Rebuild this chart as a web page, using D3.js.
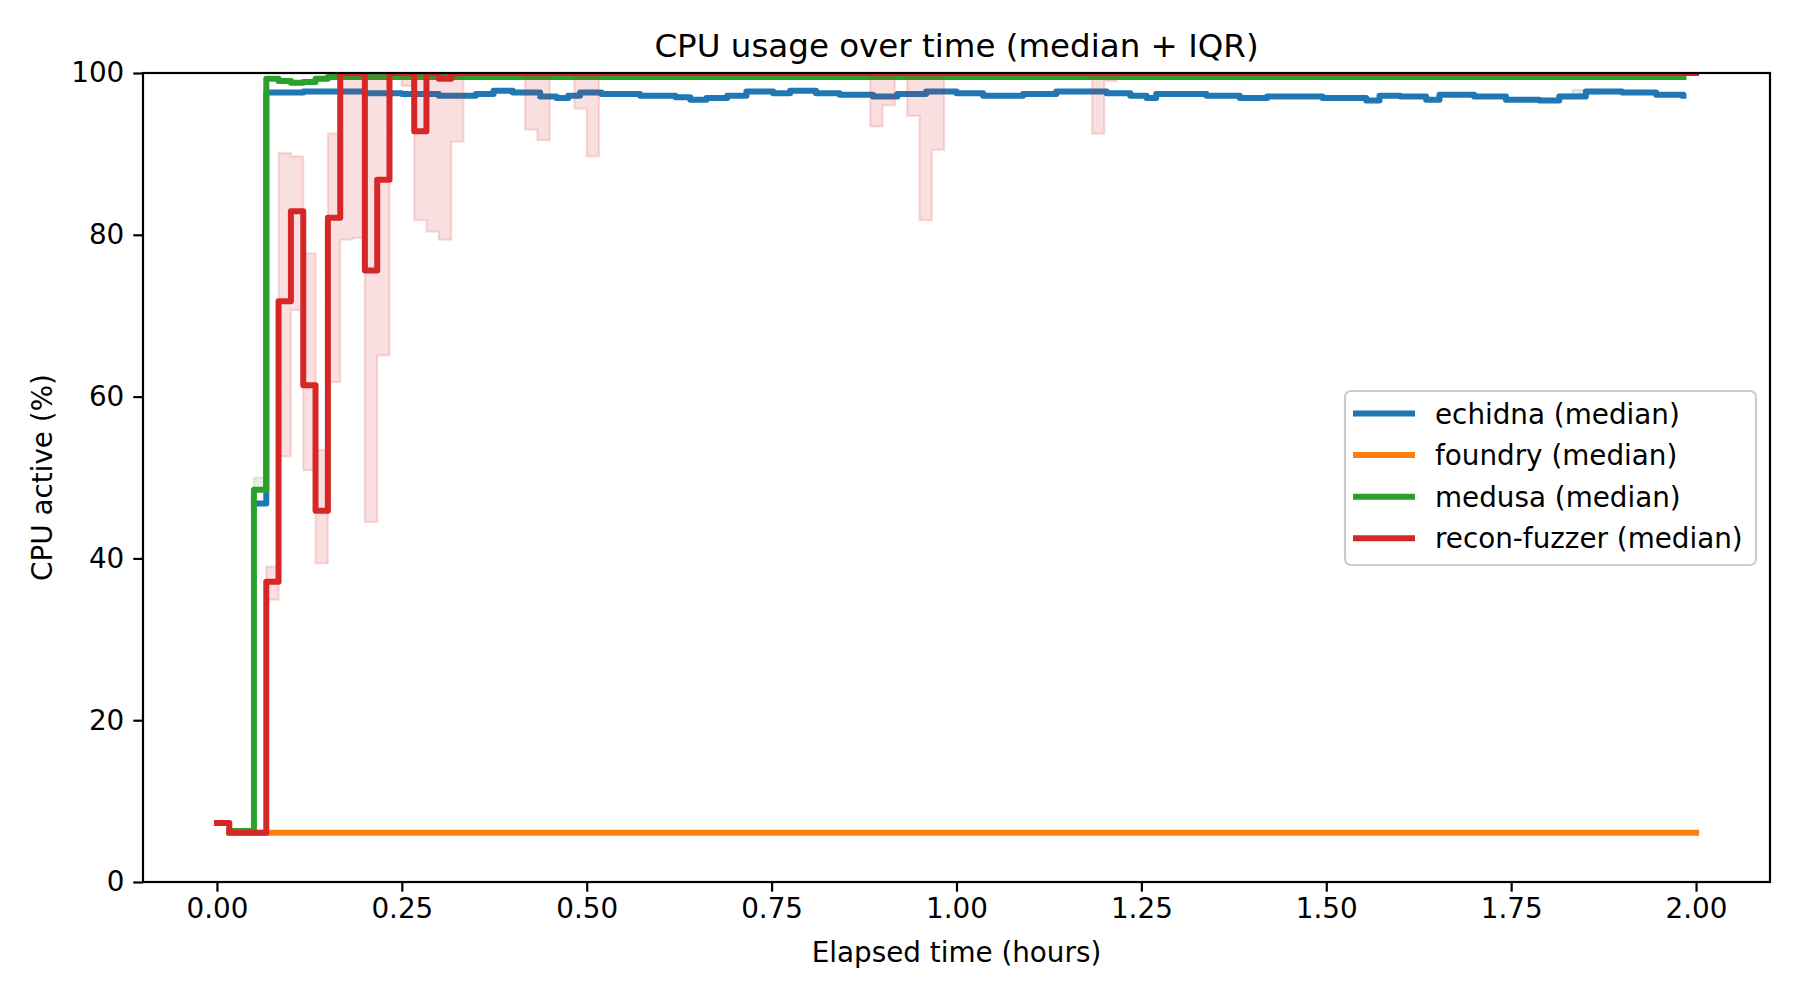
<!DOCTYPE html>
<html>
<head>
<meta charset="utf-8">
<script src="https://cdn.jsdelivr.net/npm/d3@7"></script>
<style>
  body { margin: 0; background: #fff; }
  svg { font-family: 'DejaVu Sans', sans-serif; }
</style>
</head>
<body>
<div id="chart"></div>
<script>
// Step series (value holds until next time), time in hours
const echidnaT = [0.05, 0.0667, 0.117, 0.2, 0.25, 0.3, 0.35, 0.374, 0.4, 0.437, 0.459, 0.475, 0.491, 0.52,
    0.572, 0.62, 0.64, 0.662, 0.69, 0.716, 0.752, 0.775, 0.81, 0.842, 0.887, 0.92, 0.959, 1.0, 1.036,
    1.09, 1.135, 1.203, 1.235, 1.257, 1.27, 1.338, 1.383, 1.42, 1.495, 1.554, 1.572, 1.6, 1.635, 1.653,
    1.7, 1.743, 1.788, 1.815, 1.851, 1.9, 1.946, 1.983]
const echidnaV = [46.8, 97.6, 97.7, 97.5, 97.4, 97.2, 97.4, 97.8, 97.6, 97.1, 96.9, 97.2, 97.6, 97.4,
    97.2, 97.0, 96.7, 96.9, 97.2, 97.7, 97.5, 97.8, 97.5, 97.3, 97.1, 97.4, 97.7, 97.5, 97.2,
    97.4, 97.7, 97.5, 97.2, 96.9, 97.4, 97.2, 96.9, 97.1, 96.9, 96.6, 97.2, 97.1, 96.7, 97.3,
    97.1, 96.7, 96.6, 97.1, 97.7, 97.6, 97.3, 97.2]
const echidnaBandT = [1.8, 1.817, 1.833, 1.867]
const echidnaLo = [96.6, 96.9, 97.4, 97.6]
const echidnaHi = [96.8, 97.4, 97.9, 97.7]

const foundryT = [0.0167, 2.0]
const foundryV = [6.1, 6.1]

const medusaT = [0.0167, 0.05, 0.0667, 0.0833, 0.1, 0.1167, 0.1333, 0.15, 0.1667, 1.983]
const medusaV = [6.3, 48.5, 99.3, 99.0, 98.8, 98.9, 99.3, 99.5, 99.5, 99.5]
const medusaBandT = [0.05, 0.0667]
const medusaLo = [48.5, 99.3]
const medusaHi = [50.0, 99.3]

const reconT = [0, 0.0167, 0.0667, 0.0833, 0.1, 0.1167, 0.1333, 0.15, 0.1667, 0.2, 0.2167, 0.2333,
    0.2667, 0.2833, 0.3, 0.3167, 2.0]
const reconV = [7.3, 6.1, 37.1, 71.8, 82.9, 61.4, 45.9, 82.1, 100, 75.6, 86.8, 100,
    92.8, 100, 99.3, 100, 100]
const reconBandT = [0.0667, 0.0833, 0.1, 0.1167, 0.1333, 0.15, 0.1667, 0.1833, 0.2, 0.2167, 0.2333,
    0.25, 0.2667, 0.2833, 0.3, 0.3167, 0.3333, 0.4167, 0.4333, 0.45, 0.4833, 0.5, 0.5167,
    0.8833, 0.9, 0.9167, 0.9333, 0.95, 0.9667, 0.9833, 1.1833, 1.2, 1.2167]
const reconLo = [34.9, 52.6, 70.7, 50.9, 39.4, 61.8, 79.4, 79.6, 44.5, 65.1, 100,
    98.4, 81.8, 80.4, 79.4, 91.5, 100, 93.0, 91.7, 100, 95.6, 89.7, 100,
    93.4, 96.0, 100, 94.7, 81.8, 90.5, 100, 92.5, 99.0, 100]
const reconHi = [39.0, 90.1, 89.7, 77.7, 53.4, 92.5, 100, 100, 100, 100, 100,
    100, 100, 100, 100, 100, 100, 100, 100, 100, 100, 100, 100,
    100, 100, 100, 100, 100, 100, 100, 100, 100, 100]

const xTicks = [0, 0.25, 0.5, 0.75, 1.0, 1.25, 1.5, 1.75, 2.0]
const yTicks = [0, 20, 40, 60, 80, 100]

const series = [
    {name: 'echidna (median)', color: '#1f77b4', t: echidnaT, v: echidnaV, bt: echidnaBandT, lo: echidnaLo, hi: echidnaHi},
    {name: 'foundry (median)', color: '#ff7f0e', t: foundryT, v: foundryV, bt: [], lo: [], hi: []},
    {name: 'medusa (median)', color: '#2ca02c', t: medusaT, v: medusaV, bt: medusaBandT, lo: medusaLo, hi: medusaHi},
    {name: 'recon-fuzzer (median)', color: '#d62728', t: reconT, v: reconV, bt: reconBandT, lo: reconLo, hi: reconHi}
]

const W = 1800, H = 1000
const margin = {top: 73, right: 30, bottom: 118, left: 143}
const w = W - margin.left - margin.right
const h = H - margin.top - margin.bottom

const svg = d3.select('#chart').append('svg')
    .attr('width', W)
    .attr('height', H)

const x = d3.scaleLinear().domain([-0.1, 2.1]).range([0, w])
const y = d3.scaleLinear().domain([0, 100]).range([h, 0])

svg.append('defs').append('clipPath')
    .attr('id', 'plot-clip')
    .append('rect')
    .attr('width', w)
    .attr('height', h)

const g = svg.append('g')
    .attr('transform', `translate(${margin.left},${margin.top})`)

const plot = g.append('g').attr('clip-path', 'url(#plot-clip)')

const lineGen = d3.line()
    .curve(d3.curveStepAfter)
    .x(d => x(d[0]))
    .y(d => y(d[1]))

const areaGen = d3.area()
    .curve(d3.curveStepAfter)
    .x(d => x(d[0]))
    .y0(d => y(d[1]))
    .y1(d => y(d[2]))

series.forEach(s => {
    if (s.bt.length) {
        let pts = s.bt.map((t, i) => [t, s.lo[i], s.hi[i]])
        plot.append('path')
            .attr('d', areaGen(pts))
            .attr('fill', s.color)
            .attr('fill-opacity', 0.15)
            .attr('stroke', s.color)
            .attr('stroke-opacity', 0.15)
            .attr('stroke-width', 2.2)
    }
    plot.append('path')
        .attr('d', lineGen(s.t.map((t, i) => [t, s.v[i]])))
        .attr('fill', 'none')
        .attr('stroke', s.color)
        .attr('stroke-width', 6)
        .attr('stroke-linecap', 'square')
        .attr('stroke-linejoin', 'round')
})

// Axes
const xAxis = g.append('g')
    .attr('transform', `translate(0,${h})`)
    .call(d3.axisBottom(x).tickValues(xTicks).tickFormat(d3.format('.2f')).tickSizeInner(9.7).tickSizeOuter(0).tickPadding(7))
const yAxis = g.append('g')
    .call(d3.axisLeft(y).tickValues(yTicks).tickFormat(d3.format('d')).tickSizeInner(9.7).tickSizeOuter(0).tickPadding(9))

;[xAxis, yAxis].forEach(a => {
    a.select('.domain').remove()
    a.selectAll('.tick line').attr('stroke', '#000').attr('stroke-width', 2.2)
    a.selectAll('.tick text')
        .attr('fill', '#000')
        .style('font-family', "'DejaVu Sans', sans-serif")
        .style('font-size', '27.8px')
})

// Spines
g.append('rect')
    .attr('width', w)
    .attr('height', h)
    .attr('fill', 'none')
    .attr('stroke', '#000')
    .attr('stroke-width', 2.2)

// Title and labels
svg.append('text')
    .attr('x', margin.left + w / 2)
    .attr('y', 57)
    .attr('text-anchor', 'middle')
    .style('font-size', '32.5px')
    .text('CPU usage over time (median + IQR)')

svg.append('text')
    .attr('x', margin.left + w / 2)
    .attr('y', 962)
    .attr('text-anchor', 'middle')
    .style('font-size', '27.8px')
    .text('Elapsed time (hours)')

svg.append('text')
    .attr('transform', `translate(52,${margin.top + h / 2}) rotate(-90)`)
    .attr('text-anchor', 'middle')
    .style('font-size', '27.8px')
    .text('CPU active (%)')

// Legend
const legend = svg.append('g').attr('transform', 'translate(1345,391)')
legend.append('rect')
    .attr('width', 411)
    .attr('height', 174)
    .attr('rx', 6)
    .attr('fill', '#fff')
    .attr('fill-opacity', 0.8)
    .attr('stroke', '#cccccc')
    .attr('stroke-width', 2.2)

series.forEach((s, i) => {
    let cy = 22.5 + i * 41.6
    legend.append('line')
        .attr('x1', 11).attr('x2', 67)
        .attr('y1', cy).attr('y2', cy)
        .attr('stroke', s.color)
        .attr('stroke-width', 6)
        .attr('stroke-linecap', 'square')
    legend.append('text')
        .attr('x', 90)
        .attr('y', cy + 10)
        .style('font-size', '27.8px')
        .text(s.name)
})
</script>
</body>
</html>
